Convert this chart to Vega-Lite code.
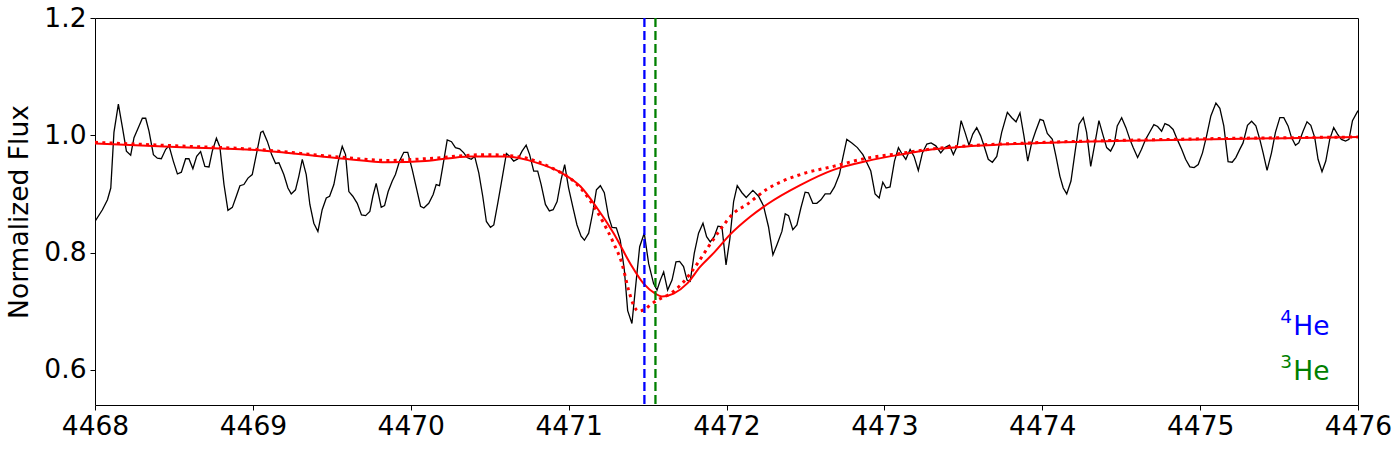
{
  "$schema": "https://vega.github.io/schema/vega-lite/v6.json",
  "autosize": {"type": "none"},
  "width": 1263,
  "height": 387,
  "padding": {"left": 95, "top": 18, "right": 42, "bottom": 45},
  "background": "white",
  "config": {
    "view": {"stroke": "black", "strokeWidth": 1},
    "axis": {
      "grid": false, "domain": false, "tickColor": "black", "tickSize": 5, "tickWidth": 1,
      "labelFont": "DejaVu Sans", "labelFontSize": 26.5, "labelColor": "black",
      "titleFont": "DejaVu Sans", "titleFontSize": 26.5, "titleFontWeight": "normal", "titleColor": "black",
      "labelPadding": 4
    }
  },
  "datasets": {
    "obs": [
      {"w":4468.000,"f":0.853},{"w":4468.047,"f":0.873},{"w":4468.079,"f":0.890},{"w":4468.100,"f":0.910},{"w":4468.120,"f":1.005},{"w":4468.148,"f":1.053},{"w":4468.174,"f":1.013},{"w":4468.199,"f":0.973},{"w":4468.226,"f":0.966},{"w":4468.247,"f":0.996},{"w":4468.279,"f":1.016},{"w":4468.300,"f":1.029},{"w":4468.321,"f":1.029},{"w":4468.342,"f":1.007},{"w":4468.370,"f":0.967},{"w":4468.395,"f":0.961},{"w":4468.420,"f":0.960},{"w":4468.448,"f":0.976},{"w":4468.469,"f":0.982},{"w":4468.496,"f":0.956},{"w":4468.522,"f":0.934},{"w":4468.547,"f":0.937},{"w":4468.574,"f":0.960},{"w":4468.595,"f":0.960},{"w":4468.620,"f":0.943},{"w":4468.644,"f":0.964},{"w":4468.669,"f":0.972},{"w":4468.696,"f":0.947},{"w":4468.722,"f":0.946},{"w":4468.743,"f":0.973},{"w":4468.769,"f":0.995},{"w":4468.791,"f":0.980},{"w":4468.817,"f":0.916},{"w":4468.842,"f":0.872},{"w":4468.870,"f":0.877},{"w":4468.895,"f":0.896},{"w":4468.918,"f":0.914},{"w":4468.943,"f":0.916},{"w":4468.969,"f":0.927},{"w":4468.996,"f":0.933},{"w":4469.028,"f":0.975},{"w":4469.050,"f":1.005},{"w":4469.064,"f":1.007},{"w":4469.091,"f":0.990},{"w":4469.119,"f":0.967},{"w":4469.144,"f":0.952},{"w":4469.165,"f":0.953},{"w":4469.196,"f":0.933},{"w":4469.222,"f":0.910},{"w":4469.243,"f":0.900},{"w":4469.270,"f":0.907},{"w":4469.291,"f":0.930},{"w":4469.313,"f":0.959},{"w":4469.338,"f":0.933},{"w":4469.361,"f":0.882},{"w":4469.386,"f":0.850},{"w":4469.412,"f":0.836},{"w":4469.439,"f":0.873},{"w":4469.465,"f":0.893},{"w":4469.486,"f":0.896},{"w":4469.513,"f":0.916},{"w":4469.541,"f":0.956},{"w":4469.566,"f":0.981},{"w":4469.587,"f":0.967},{"w":4469.608,"f":0.904},{"w":4469.633,"f":0.896},{"w":4469.661,"f":0.884},{"w":4469.688,"f":0.864},{"w":4469.714,"f":0.863},{"w":4469.741,"f":0.870},{"w":4469.760,"f":0.896},{"w":4469.781,"f":0.918},{"w":4469.813,"f":0.877},{"w":4469.834,"f":0.880},{"w":4469.857,"f":0.904},{"w":4469.883,"f":0.922},{"w":4469.903,"f":0.933},{"w":4469.929,"f":0.956},{"w":4469.956,"f":0.971},{"w":4469.981,"f":0.971},{"w":4470.009,"f":0.942},{"w":4470.036,"f":0.910},{"w":4470.062,"f":0.879},{"w":4470.083,"f":0.876},{"w":4470.114,"f":0.884},{"w":4470.142,"f":0.899},{"w":4470.161,"f":0.916},{"w":4470.182,"f":0.914},{"w":4470.203,"f":0.947},{"w":4470.231,"f":0.992},{"w":4470.258,"f":0.989},{"w":4470.283,"f":0.979},{"w":4470.310,"f":0.977},{"w":4470.336,"f":0.970},{"w":4470.357,"f":0.962},{"w":4470.383,"f":0.959},{"w":4470.405,"f":0.964},{"w":4470.431,"f":0.936},{"w":4470.456,"f":0.896},{"w":4470.479,"f":0.853},{"w":4470.505,"f":0.843},{"w":4470.526,"f":0.847},{"w":4470.551,"f":0.884},{"w":4470.579,"f":0.927},{"w":4470.606,"f":0.969},{"w":4470.631,"f":0.963},{"w":4470.652,"f":0.956},{"w":4470.680,"f":0.960},{"w":4470.705,"f":0.973},{"w":4470.731,"f":0.983},{"w":4470.753,"f":0.967},{"w":4470.779,"f":0.939},{"w":4470.804,"f":0.939},{"w":4470.826,"f":0.916},{"w":4470.853,"f":0.882},{"w":4470.878,"f":0.871},{"w":4470.902,"f":0.873},{"w":4470.927,"f":0.887},{"w":4470.952,"f":0.924},{"w":4470.975,"f":0.950},{"w":4471.000,"f":0.910},{"w":4471.028,"f":0.876},{"w":4471.053,"f":0.847},{"w":4471.079,"f":0.828},{"w":4471.100,"f":0.821},{"w":4471.127,"f":0.833},{"w":4471.152,"f":0.867},{"w":4471.176,"f":0.907},{"w":4471.201,"f":0.914},{"w":4471.226,"f":0.902},{"w":4471.253,"f":0.861},{"w":4471.275,"f":0.843},{"w":4471.302,"f":0.842},{"w":4471.327,"f":0.821},{"w":4471.353,"f":0.770},{"w":4471.374,"f":0.701},{"w":4471.401,"f":0.679},{"w":4471.422,"f":0.736},{"w":4471.450,"f":0.810},{"w":4471.479,"f":0.833},{"w":4471.507,"f":0.781},{"w":4471.538,"f":0.747},{"w":4471.560,"f":0.736},{"w":4471.581,"f":0.753},{"w":4471.602,"f":0.767},{"w":4471.627,"f":0.736},{"w":4471.655,"f":0.753},{"w":4471.680,"f":0.784},{"w":4471.703,"f":0.785},{"w":4471.728,"f":0.776},{"w":4471.750,"f":0.753},{"w":4471.770,"f":0.751},{"w":4471.796,"f":0.799},{"w":4471.823,"f":0.833},{"w":4471.851,"f":0.850},{"w":4471.874,"f":0.827},{"w":4471.897,"f":0.818},{"w":4471.922,"f":0.827},{"w":4471.946,"f":0.845},{"w":4471.971,"f":0.844},{"w":4471.997,"f":0.779},{"w":4472.021,"f":0.823},{"w":4472.045,"f":0.887},{"w":4472.068,"f":0.914},{"w":4472.098,"f":0.902},{"w":4472.125,"f":0.894},{"w":4472.167,"f":0.906},{"w":4472.203,"f":0.896},{"w":4472.234,"f":0.880},{"w":4472.266,"f":0.844},{"w":4472.294,"f":0.796},{"w":4472.319,"f":0.813},{"w":4472.351,"f":0.836},{"w":4472.372,"f":0.866},{"w":4472.393,"f":0.863},{"w":4472.420,"f":0.839},{"w":4472.446,"f":0.847},{"w":4472.471,"f":0.876},{"w":4472.498,"f":0.903},{"w":4472.519,"f":0.902},{"w":4472.547,"f":0.884},{"w":4472.572,"f":0.884},{"w":4472.598,"f":0.890},{"w":4472.625,"f":0.900},{"w":4472.657,"f":0.900},{"w":4472.684,"f":0.912},{"w":4472.715,"f":0.933},{"w":4472.737,"f":0.962},{"w":4472.762,"f":0.993},{"w":4472.794,"f":0.987},{"w":4472.829,"f":0.979},{"w":4472.864,"f":0.967},{"w":4472.889,"f":0.953},{"w":4472.914,"f":0.939},{"w":4472.941,"f":0.900},{"w":4472.967,"f":0.893},{"w":4472.990,"f":0.920},{"w":4473.011,"f":0.910},{"w":4473.036,"f":0.912},{"w":4473.064,"f":0.956},{"w":4473.089,"f":0.979},{"w":4473.110,"f":0.969},{"w":4473.136,"f":0.959},{"w":4473.163,"f":0.976},{"w":4473.188,"f":0.964},{"w":4473.215,"f":0.940},{"w":4473.241,"f":0.970},{"w":4473.269,"f":0.985},{"w":4473.296,"f":0.987},{"w":4473.326,"f":0.982},{"w":4473.357,"f":0.970},{"w":4473.384,"f":0.979},{"w":4473.412,"f":0.983},{"w":4473.437,"f":0.967},{"w":4473.462,"f":0.982},{"w":4473.486,"f":1.025},{"w":4473.511,"f":1.005},{"w":4473.536,"f":0.983},{"w":4473.560,"f":1.002},{"w":4473.585,"f":1.013},{"w":4473.610,"f":0.999},{"w":4473.631,"f":0.982},{"w":4473.658,"f":0.959},{"w":4473.684,"f":0.954},{"w":4473.712,"f":0.964},{"w":4473.743,"f":1.005},{"w":4473.779,"f":1.039},{"w":4473.807,"f":1.030},{"w":4473.834,"f":1.023},{"w":4473.859,"f":1.038},{"w":4473.884,"f":0.999},{"w":4473.908,"f":0.956},{"w":4473.933,"f":0.987},{"w":4473.958,"f":1.007},{"w":4473.986,"f":1.027},{"w":4474.007,"f":1.025},{"w":4474.032,"f":1.003},{"w":4474.064,"f":0.993},{"w":4474.087,"f":0.964},{"w":4474.112,"f":0.930},{"w":4474.133,"f":0.910},{"w":4474.155,"f":0.900},{"w":4474.182,"f":0.922},{"w":4474.207,"f":0.970},{"w":4474.233,"f":1.019},{"w":4474.260,"f":1.030},{"w":4474.281,"f":1.005},{"w":4474.307,"f":0.947},{"w":4474.334,"f":0.987},{"w":4474.359,"f":1.025},{"w":4474.383,"f":1.002},{"w":4474.408,"f":0.979},{"w":4474.433,"f":0.973},{"w":4474.456,"f":0.985},{"w":4474.475,"f":1.016},{"w":4474.503,"f":1.030},{"w":4474.530,"f":1.013},{"w":4474.555,"f":0.993},{"w":4474.576,"f":0.979},{"w":4474.604,"f":0.962},{"w":4474.629,"f":0.976},{"w":4474.655,"f":0.993},{"w":4474.682,"f":1.006},{"w":4474.707,"f":1.018},{"w":4474.731,"f":1.015},{"w":4474.756,"f":1.007},{"w":4474.777,"f":1.020},{"w":4474.802,"f":1.017},{"w":4474.829,"f":1.010},{"w":4474.855,"f":0.993},{"w":4474.883,"f":0.976},{"w":4474.908,"f":0.959},{"w":4474.935,"f":0.946},{"w":4474.962,"f":0.945},{"w":4474.988,"f":0.950},{"w":4475.015,"f":0.970},{"w":4475.041,"f":0.999},{"w":4475.068,"f":1.033},{"w":4475.100,"f":1.055},{"w":4475.125,"f":1.046},{"w":4475.150,"f":1.016},{"w":4475.177,"f":0.955},{"w":4475.203,"f":0.954},{"w":4475.226,"f":0.962},{"w":4475.251,"f":0.976},{"w":4475.272,"f":0.987},{"w":4475.300,"f":1.017},{"w":4475.326,"f":1.024},{"w":4475.353,"f":1.016},{"w":4475.378,"f":0.993},{"w":4475.399,"f":0.970},{"w":4475.424,"f":0.940},{"w":4475.452,"f":0.970},{"w":4475.477,"f":1.005},{"w":4475.505,"f":1.030},{"w":4475.530,"f":1.030},{"w":4475.557,"f":1.016},{"w":4475.579,"f":0.996},{"w":4475.604,"f":0.983},{"w":4475.625,"f":0.987},{"w":4475.652,"f":1.007},{"w":4475.677,"f":1.023},{"w":4475.701,"f":1.017},{"w":4475.726,"f":0.996},{"w":4475.747,"f":0.959},{"w":4475.772,"f":0.938},{"w":4475.796,"f":0.956},{"w":4475.821,"f":0.993},{"w":4475.846,"f":1.013},{"w":4475.870,"f":1.002},{"w":4475.895,"f":0.993},{"w":4475.921,"f":0.990},{"w":4475.943,"f":0.993},{"w":4475.965,"f":1.025},{"w":4476.000,"f":1.042}
    ],
    "fit_solid": [
      {"w":4468.000,"f":0.986},{"w":4468.512,"f":0.980},{"w":4469.017,"f":0.975},{"w":4469.542,"f":0.961},{"w":4469.862,"f":0.954},{"w":4470.092,"f":0.956},{"w":4470.378,"f":0.964},{"w":4470.587,"f":0.964},{"w":4470.800,"f":0.953},{"w":4470.948,"f":0.937},{"w":4471.074,"f":0.913},{"w":4471.180,"f":0.876},{"w":4471.285,"f":0.833},{"w":4471.391,"f":0.781},{"w":4471.475,"f":0.747},{"w":4471.549,"f":0.730},{"w":4471.591,"f":0.725},{"w":4471.665,"f":0.730},{"w":4471.750,"f":0.747},{"w":4471.834,"f":0.776},{"w":4471.918,"f":0.799},{"w":4472.024,"f":0.831},{"w":4472.150,"f":0.861},{"w":4472.256,"f":0.882},{"w":4472.467,"f":0.915},{"w":4472.677,"f":0.941},{"w":4472.889,"f":0.956},{"w":4473.100,"f":0.967},{"w":4473.310,"f":0.976},{"w":4473.522,"f":0.981},{"w":4473.922,"f":0.986},{"w":4474.808,"f":0.992},{"w":4476.000,"f":0.997}
    ],
    "fit_dotted": [
      {"w":4468.000,"f":0.988},{"w":4468.512,"f":0.982},{"w":4469.017,"f":0.976},{"w":4469.542,"f":0.963},{"w":4469.862,"f":0.957},{"w":4470.092,"f":0.960},{"w":4470.482,"f":0.967},{"w":4470.692,"f":0.963},{"w":4470.903,"f":0.943},{"w":4471.030,"f":0.922},{"w":4471.125,"f":0.893},{"w":4471.222,"f":0.850},{"w":4471.285,"f":0.816},{"w":4471.338,"f":0.781},{"w":4471.380,"f":0.736},{"w":4471.412,"f":0.710},{"w":4471.443,"f":0.700},{"w":4471.486,"f":0.704},{"w":4471.528,"f":0.713},{"w":4471.570,"f":0.720},{"w":4471.644,"f":0.730},{"w":4471.728,"f":0.750},{"w":4471.802,"f":0.776},{"w":4471.886,"f":0.810},{"w":4471.960,"f":0.839},{"w":4472.045,"f":0.867},{"w":4472.129,"f":0.882},{"w":4472.256,"f":0.908},{"w":4472.467,"f":0.933},{"w":4472.677,"f":0.947},{"w":4472.889,"f":0.961},{"w":4473.100,"f":0.969},{"w":4473.310,"f":0.977},{"w":4473.522,"f":0.982},{"w":4473.922,"f":0.987},{"w":4474.808,"f":0.993},{"w":4476.000,"f":0.997}
    ],
    "lines": [
      {"ion":"4He","w":4471.48},
      {"ion":"3He","w":4471.55}
    ],
    "labels": [
      {"ion":"4He","mass":"4","el":"He","w":4475.82,"f":0.660},
      {"ion":"3He","mass":"3","el":"He","w":4475.82,"f":0.583}
    ]
  },
  "layer": [
    {
      "data": {"name": "obs"},
      "mark": {"type": "line", "color": "black", "strokeWidth": 1.3, "clip": true},
      "encoding": {
        "x": {"field": "w", "type": "quantitative", "scale": {"domain": [4468, 4476], "nice": false, "zero": false},
              "axis": {"values": [4468,4469,4470,4471,4472,4473,4474,4475,4476], "format": "d", "title": null, "labelPadding": 3, "labelFlush": false}},
        "y": {"field": "f", "type": "quantitative", "scale": {"domain": [0.540, 1.2], "nice": false, "zero": false},
              "axis": {"values": [0.6, 0.8, 1.0, 1.2], "format": ".1f", "title": "Normalized Flux", "titlePadding": 10, "labelFlush": false}}
      }
    },
    {
      "data": {"name": "fit_solid"},
      "mark": {"type": "line", "color": "#ff0000", "strokeWidth": 2, "interpolate": "monotone", "clip": true},
      "encoding": {
        "x": {"field": "w", "type": "quantitative"},
        "y": {"field": "f", "type": "quantitative"}
      }
    },
    {
      "data": {"name": "fit_dotted"},
      "mark": {"type": "line", "color": "#ff0000", "strokeWidth": 3, "strokeDash": [3, 4.3], "interpolate": "monotone", "clip": true},
      "encoding": {
        "x": {"field": "w", "type": "quantitative"},
        "y": {"field": "f", "type": "quantitative"}
      }
    },
    {
      "data": {"name": "lines"},
      "mark": {"type": "rule", "strokeWidth": 2.3, "strokeDash": [9, 4]},
      "encoding": {
        "x": {"field": "w", "type": "quantitative"},
        "color": {"field": "ion", "type": "nominal", "scale": {"domain": ["4He", "3He"], "range": ["#0000ff", "#008000"]}, "legend": null}
      }
    },
    {
      "data": {"name": "labels"},
      "mark": {"type": "text", "align": "right", "baseline": "alphabetic", "font": "DejaVu Sans", "fontSize": 26.5},
      "encoding": {
        "x": {"field": "w", "type": "quantitative"},
        "y": {"field": "f", "type": "quantitative"},
        "text": {"field": "el"},
        "color": {"field": "ion", "type": "nominal", "scale": {"domain": ["4He", "3He"], "range": ["#0000ff", "#008000"]}, "legend": null}
      }
    },
    {
      "data": {"name": "labels"},
      "mark": {"type": "text", "align": "right", "baseline": "alphabetic", "font": "DejaVu Sans", "fontSize": 18.5, "dx": -37.5, "dy": -11.5},
      "encoding": {
        "x": {"field": "w", "type": "quantitative"},
        "y": {"field": "f", "type": "quantitative"},
        "text": {"field": "mass"},
        "color": {"field": "ion", "type": "nominal", "scale": {"domain": ["4He", "3He"], "range": ["#0000ff", "#008000"]}, "legend": null}
      }
    }
  ]
}
